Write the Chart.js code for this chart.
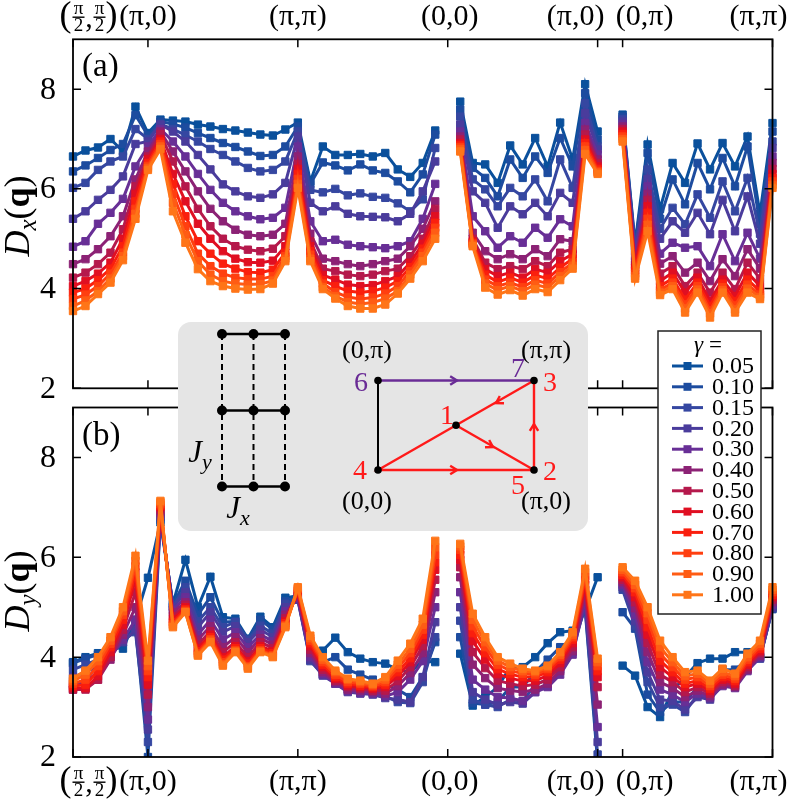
<!DOCTYPE html>
<html>
<head>
<meta charset="utf-8">
<script src="https://cdn.jsdelivr.net/npm/chart.js@4.4.1/dist/chart.umd.min.js"></script>
<style>
  html, body { margin: 0; padding: 0; background: #fff; overflow: hidden; }
  #wrap { position: relative; width: 789px; height: 801px; }
  #wrap canvas { position: absolute; left: 0; top: 0; }
</style>
</head>
<body>
<div id="wrap">
  <canvas id="chartA" width="789" height="801"></canvas>
  <canvas id="chartB" width="789" height="801"></canvas>
</div>
<script>
const gammas = ["0.05", "0.10", "0.15", "0.20", "0.30", "0.40", "0.50", "0.60", "0.70", "0.80", "0.90", "1.00"];
const colors = ["#0a509c", "#1d4c9f", "#3547a1", "#4a3c9c", "#682f96", "#8c2275", "#b5194c", "#e00f22", "#fa1f0e", "#ff3f10", "#ff5c14", "#ff7518"];

// position of each q point along the path (gaps at 30 and 43)
const qPos = [0, 1, 2, 3, 4, 5, 6, 7, 8, 9, 10, 11, 12, 13, 14, 15, 16, 17, 18, 19, 20, 21, 22, 23, 24, 25, 26, 27, 28, 29,
  31, 32, 33, 34, 35, 36, 37, 38, 39, 40, 41, 42,
  44, 45, 46, 47, 48, 49, 50, 51, 52, 53, 54, 55, 56];
const qTicks = [0, 6, 18, 30, 42, 44, 56];
const qLabels = ["(π/2,π/2)", "(π,0)", "(π,π)", "(0,0)", "(π,0)", "(0,π)", "(π,π)"];
const qLabelShift = [15.5, 0, 0, 2, -22, 22, -14];
const yTicks = [2, 4, 6, 8];

// D_x(q), panel (a)
const dx005 = [6.65, 6.77, 6.83, 7.0, 6.75, 7.65, 7.12, 7.39, 7.37, 7.35, 7.29, 7.25, 7.2, 7.17, 7.13, 7.09, 7.07, 7.19, 7.33,
  6.15, 6.85, 6.68, 6.68, 6.7, 6.65, 6.72, 6.39, 6.24, 6.52, 7.17,
  7.75, 6.52, 6.49, 6.12, 6.87, 6.49, 7.02, 6.45, 7.33, 6.59, 8.1, 7.15,
  7.49, 4.9, 6.89, 5.6, 6.52, 6.12, 6.91, 6.39, 6.92, 6.45, 7.05, 5.5, 7.32];
const dx010 = [6.35, 6.47, 6.62, 6.78, 6.9, 7.48, 7.07, 7.35, 7.3, 7.23, 7.12, 7.02, 6.92, 6.84, 6.75, 6.66, 6.68, 6.85, 7.25,
  6.1, 6.53, 6.47, 6.37, 6.49, 6.37, 6.32, 6.15, 5.93, 6.29, 7.09,
  7.59, 6.42, 6.22, 5.85, 6.59, 6.22, 6.65, 6.32, 7.02, 6.45, 7.92, 6.99,
  7.45, 4.85, 6.72, 5.4, 6.19, 5.69, 6.52, 5.99, 6.62, 6.05, 6.85, 5.3, 7.15];
const dx015 = [6.02, 6.12, 6.38, 6.55, 6.65, 7.2, 7.0, 7.3, 7.2, 7.08, 6.95, 6.8, 6.68, 6.55, 6.42, 6.35, 6.38, 6.55, 7.15,
  5.98, 5.93, 6.0, 5.87, 5.91, 5.84, 5.82, 5.71, 5.55, 5.79, 6.82,
  7.45, 6.19, 5.99, 5.65, 6.02, 5.85, 6.19, 5.75, 6.59, 6.02, 7.72, 6.85,
  7.4, 4.8, 6.39, 5.2, 5.62, 5.29, 5.89, 5.42, 6.15, 5.55, 6.22, 5.1, 6.95];
const dx020 = [5.4, 5.55, 5.78, 5.98, 6.25, 6.9, 6.95, 7.29, 7.15, 6.95, 6.68, 6.39, 6.09, 5.95, 5.85, 5.82, 5.89, 6.12, 7.05,
  5.72, 5.55, 5.65, 5.5, 5.45, 5.44, 5.43, 5.35, 5.5, 5.95, 6.55,
  7.29, 5.95, 5.72, 5.22, 5.65, 5.49, 5.72, 5.45, 5.92, 5.72, 7.52, 6.79,
  7.35, 4.75, 6.2, 5.0, 5.35, 5.12, 5.52, 5.09, 5.78, 5.15, 5.85, 4.9, 6.82];
const dx030 = [4.84, 4.95, 5.3, 5.52, 5.8, 6.45, 6.85, 7.2, 6.95, 6.65, 6.3, 5.98, 5.72, 5.55, 5.45, 5.39, 5.42, 5.62, 6.85,
  5.35, 4.95, 4.98, 4.88, 4.85, 4.83, 4.81, 4.85, 4.95, 5.4, 6.1,
  7.15, 5.45, 5.15, 4.82, 5.05, 4.92, 5.22, 5.02, 5.39, 5.25, 7.32, 6.69,
  7.3, 4.65, 6.05, 4.7, 4.92, 4.82, 4.85, 4.45, 5.09, 4.55, 5.12, 4.6, 6.65];
const dx040 = [4.49, 4.59, 4.79, 5.05, 5.45, 6.19, 6.75, 7.15, 6.75, 6.35, 5.95, 5.6, 5.35, 5.18, 5.08, 5.05, 5.08, 5.3, 6.65,
  5.1, 4.6, 4.55, 4.49, 4.45, 4.49, 4.55, 4.6, 4.85, 5.2, 5.75,
  7.05, 5.12, 4.75, 4.59, 4.69, 4.59, 4.79, 4.65, 4.99, 4.95, 7.19, 6.59,
  7.25, 4.55, 5.9, 4.5, 4.65, 4.32, 4.52, 4.15, 4.59, 4.25, 4.79, 4.4, 6.52];
const dx050 = [4.22, 4.32, 4.49, 4.72, 5.19, 6.05, 6.65, 7.1, 6.55, 6.05, 5.6, 5.25, 5.0, 4.85, 4.78, 4.75, 4.8, 5.05, 6.5,
  4.95, 4.4, 4.35, 4.28, 4.25, 4.28, 4.35, 4.4, 4.65, 5.0, 5.6,
  6.99, 5.0, 4.52, 4.39, 4.45, 4.39, 4.55, 4.45, 4.72, 4.79, 7.09, 6.52,
  7.2, 4.48, 5.78, 4.3, 4.45, 4.05, 4.32, 3.92, 4.32, 3.99, 4.52, 4.2, 6.4];
const dx060 = [4.05, 4.15, 4.3, 4.52, 5.0, 5.9, 6.6, 7.0, 6.3, 5.75, 5.3, 5.0, 4.75, 4.6, 4.53, 4.52, 4.56, 4.85, 6.4,
  4.85, 4.27, 4.18, 4.08, 4.05, 4.07, 4.15, 4.25, 4.52, 4.9, 5.45,
  6.92, 4.95, 4.39, 4.25, 4.32, 4.22, 4.39, 4.32, 4.55, 4.69, 6.99, 6.45,
  7.15, 4.42, 5.65, 4.15, 4.32, 3.92, 4.22, 3.75, 4.18, 3.85, 4.32, 4.05, 6.3];
const dx070 = [3.92, 4.0, 4.17, 4.4, 4.85, 5.75, 6.52, 6.95, 6.1, 5.45, 4.95, 4.7, 4.5, 4.4, 4.33, 4.32, 4.38, 4.72, 6.3,
  4.75, 4.17, 4.05, 3.95, 3.92, 3.95, 4.02, 4.15, 4.43, 4.8, 5.32,
  6.88, 4.92, 4.28, 4.13, 4.22, 4.12, 4.27, 4.2, 4.42, 4.6, 6.92, 6.4,
  7.1, 4.36, 5.52, 4.05, 4.2, 3.78, 4.12, 3.65, 4.1, 3.75, 4.18, 3.95, 6.22];
const dx080 = [3.79, 3.88, 4.05, 4.3, 4.72, 5.6, 6.46, 6.9, 5.9, 5.25, 4.7, 4.45, 4.3, 4.22, 4.19, 4.19, 4.25, 4.65, 6.2,
  4.68, 4.1, 3.93, 3.83, 3.79, 3.82, 3.9, 4.05, 4.35, 4.72, 5.22,
  6.84, 4.9, 4.18, 4.05, 4.12, 4.03, 4.17, 4.1, 4.33, 4.52, 6.85, 6.36,
  7.05, 4.3, 5.4, 3.97, 4.12, 3.68, 4.05, 3.56, 4.03, 3.66, 4.08, 3.88, 6.15];
const dx090 = [3.65, 3.76, 3.95, 4.2, 4.65, 5.5, 6.42, 6.85, 5.72, 5.08, 4.55, 4.28, 4.15, 4.1, 4.08, 4.09, 4.16, 4.6, 6.1,
  4.6, 4.03, 3.85, 3.73, 3.69, 3.72, 3.8, 3.95, 4.28, 4.65, 5.12,
  6.8, 4.88, 4.1, 3.97, 4.05, 3.95, 4.08, 4.02, 4.25, 4.46, 6.78, 6.33,
  7.0, 4.25, 5.28, 3.92, 4.05, 3.6, 3.98, 3.5, 3.97, 3.58, 4.0, 3.83, 6.08];
const dx100 = [3.55, 3.65, 3.89, 4.12, 4.57, 5.4, 6.38, 6.8, 5.55, 4.92, 4.39, 4.15, 4.05, 4.0, 3.98, 3.99, 4.1, 4.55, 6.02,
  4.55, 3.99, 3.8, 3.65, 3.6, 3.6, 3.68, 3.9, 4.2, 4.55, 5.0,
  6.75, 4.85, 4.02, 3.88, 3.97, 3.86, 3.99, 3.93, 4.17, 4.4, 6.7, 6.3,
  6.95, 4.2, 5.15, 3.87, 3.99, 3.52, 3.92, 3.42, 3.92, 3.52, 3.92, 3.79, 6.02];

// D_y(q), panel (b)
const dy005 = [3.9, 4.0, 4.08, 4.2, 4.17, 4.75, 5.59, 6.7, 5.07, 5.95, 5.0, 5.61, 4.8, 4.77, 4.37, 4.81, 4.6, 5.19, 5.23,
  4.1, 4.13, 4.39, 4.1, 3.97, 3.9, 3.87, 3.75, 3.7, 3.93, 3.9,
  4.07, 3.03, 3.2, 3.4, 3.8, 3.8, 4.0, 4.28, 4.5, 4.53, 4.93, 5.6,
  3.83, 3.63, 3.0, 2.8, 3.33, 3.6, 3.88, 3.97, 3.97, 4.1, 4.1, 4.0, 5.0];
const dy010 = [3.88, 3.97, 4.05, 4.15, 4.3, 4.6, 2.0, 6.75, 5.05, 5.53, 4.85, 5.2, 4.7, 4.72, 4.35, 4.75, 4.55, 5.12, 5.2,
  3.95, 3.9, 4.0, 3.75, 3.65, 3.55, 3.45, 3.35, 3.2, 3.6, 4.3,
  4.4, 3.08, 3.05, 3.1, 3.4, 3.4, 3.7, 3.95, 4.2, 4.35, 4.95, 1.9,
  4.9, 4.57, 3.25, 2.9, 3.1, 3.1, 3.4, 3.4, 3.75, 3.75, 3.95, 4.0, 4.96];
const dy015 = [3.75, 3.85, 3.95, 4.1, 4.35, 4.5, 2.3, 6.8, 5.02, 5.4, 4.72, 5.0, 4.6, 4.7, 4.35, 4.63, 4.47, 5.07, 5.15,
  3.92, 3.65, 3.5, 3.35, 3.3, 3.28, 3.22, 3.1, 3.08, 3.5, 4.4,
  4.73, 3.15, 3.05, 3.0, 3.15, 3.12, 3.45, 3.55, 3.9, 4.2, 5.0, 2.05,
  5.35, 4.62, 3.5, 3.0, 3.05, 2.9, 3.25, 3.2, 3.55, 3.55, 3.85, 3.97, 4.98];
const dy020 = [3.6, 3.7, 3.82, 4.05, 4.3, 4.55, 2.55, 6.82, 5.0, 5.3, 4.6, 4.9, 4.5, 4.62, 4.3, 4.55, 4.4, 5.0, 5.15,
  3.95, 3.63, 3.47, 3.3, 3.27, 3.25, 3.18, 3.15, 3.1, 3.6, 4.7,
  5.0, 3.3, 3.15, 3.05, 3.1, 3.07, 3.3, 3.42, 3.75, 4.1, 5.05, 2.3,
  5.4, 4.72, 3.7, 3.15, 3.12, 2.95, 3.2, 3.15, 3.45, 3.42, 3.75, 3.98, 5.0];
const dy030 = [3.45, 3.52, 3.7, 4.0, 4.35, 4.75, 2.75, 6.85, 4.95, 5.2, 4.45, 4.75, 4.35, 4.5, 4.2, 4.45, 4.32, 4.92, 5.18,
  4.0, 3.66, 3.47, 3.32, 3.28, 3.27, 3.22, 3.3, 3.55, 3.92, 5.0,
  5.3, 3.55, 3.35, 3.2, 3.18, 3.12, 3.3, 3.4, 3.65, 4.05, 5.15, 2.6,
  5.45, 4.85, 3.9, 3.35, 3.25, 3.1, 3.27, 3.18, 3.42, 3.38, 3.72, 4.0, 5.05];
const dy040 = [3.35, 3.38, 3.55, 3.95, 4.45, 5.0, 3.0, 6.9, 4.9, 5.1, 4.35, 4.62, 4.2, 4.4, 4.1, 4.38, 4.25, 4.85, 5.22,
  4.08, 3.7, 3.5, 3.35, 3.33, 3.3, 3.27, 3.42, 3.68, 4.08, 5.3,
  5.6, 3.85, 3.58, 3.38, 3.33, 3.3, 3.35, 3.47, 3.72, 4.12, 5.25, 3.05,
  5.5, 4.98, 4.1, 3.5, 3.38, 3.2, 3.33, 3.22, 3.45, 3.4, 3.75, 4.03, 5.1];
const dy050 = [3.35, 3.35, 3.55, 4.0, 4.55, 5.3, 3.25, 6.95, 4.82, 5.05, 4.25, 4.52, 4.1, 4.3, 4.0, 4.3, 4.18, 4.78, 5.27,
  4.15, 3.75, 3.53, 3.4, 3.37, 3.33, 3.33, 3.52, 3.8, 4.22, 5.55,
  5.8, 4.1, 3.78, 3.53, 3.47, 3.42, 3.45, 3.55, 3.8, 4.2, 5.35, 3.4,
  5.55, 5.1, 4.28, 3.65, 3.5, 3.3, 3.4, 3.27, 3.5, 3.43, 3.8, 4.08, 5.15];
const dy060 = [3.38, 3.38, 3.62, 4.1, 4.65, 5.55, 3.45, 7.0, 4.76, 5.0, 4.18, 4.45, 4.0, 4.22, 3.92, 4.22, 4.12, 4.72, 5.3,
  4.22, 3.8, 3.57, 3.43, 3.4, 3.37, 3.4, 3.62, 3.9, 4.35, 5.75,
  5.95, 4.32, 3.95, 3.66, 3.58, 3.52, 3.53, 3.63, 3.88, 4.28, 5.45, 3.6,
  5.6, 5.2, 4.45, 3.8, 3.6, 3.4, 3.47, 3.32, 3.55, 3.47, 3.85, 4.12, 5.2];
const dy070 = [3.42, 3.45, 3.72, 4.2, 4.75, 5.7, 3.6, 7.03, 4.7, 4.96, 4.12, 4.4, 3.95, 4.18, 3.87, 4.18, 4.08, 4.68, 5.33,
  4.28, 3.85, 3.6, 3.47, 3.43, 3.4, 3.45, 3.7, 3.98, 4.45, 5.9,
  6.05, 4.48, 4.08, 3.76, 3.66, 3.6, 3.6, 3.7, 3.95, 4.35, 5.55, 3.72,
  5.65, 5.3, 4.6, 3.93, 3.7, 3.47, 3.53, 3.37, 3.6, 3.52, 3.9, 4.17, 5.25];
const dy080 = [3.47, 3.55, 3.82, 4.27, 4.85, 5.82, 3.72, 7.06, 4.66, 4.93, 4.08, 4.36, 3.9, 4.14, 3.82, 4.14, 4.04, 4.64, 5.36,
  4.33, 3.9, 3.65, 3.5, 3.47, 3.42, 3.5, 3.78, 4.08, 4.55, 6.05,
  6.15, 4.62, 4.2, 3.85, 3.73, 3.67, 3.65, 3.76, 4.0, 4.4, 5.62, 3.82,
  5.7, 5.38, 4.75, 4.07, 3.8, 3.55, 3.6, 3.42, 3.65, 3.57, 3.95, 4.22, 5.3];
const dy090 = [3.52, 3.65, 3.92, 4.33, 4.92, 5.93, 3.82, 7.1, 4.63, 4.91, 4.05, 4.33, 3.86, 4.12, 3.8, 4.12, 4.02, 4.62, 5.38,
  4.38, 3.95, 3.7, 3.55, 3.5, 3.45, 3.55, 3.85, 4.17, 4.65, 6.2,
  6.22, 4.75, 4.3, 3.93, 3.8, 3.72, 3.7, 3.8, 4.05, 4.45, 5.7, 3.9,
  5.75, 5.45, 4.88, 4.2, 3.9, 3.62, 3.67, 3.47, 3.7, 3.62, 4.0, 4.27, 5.35];
const dy100 = [3.57, 3.73, 4.0, 4.4, 5.0, 6.03, 3.93, 7.13, 4.6, 4.9, 4.03, 4.3, 3.83, 4.1, 3.77, 4.1, 4.0, 4.6, 5.4,
  4.43, 4.0, 3.73, 3.57, 3.53, 3.47, 3.6, 3.93, 4.27, 4.77, 6.33,
  6.27, 4.87, 4.4, 4.0, 3.87, 3.77, 3.73, 3.83, 4.1, 4.5, 5.77, 3.97,
  5.8, 5.53, 5.0, 4.33, 4.0, 3.7, 3.73, 3.53, 3.77, 3.67, 4.07, 4.33, 5.4];

const dxSeries = [dx005, dx010, dx015, dx020, dx030, dx040, dx050, dx060, dx070, dx080, dx090, dx100];
const dySeries = [dy005, dy010, dy015, dy020, dy030, dy040, dy050, dy060, dy070, dy080, dy090, dy100];

const FONT = "'Liberation Serif', 'Times New Roman', serif";

// null point between path segments so the lines break
function toPoints(vals) {
  const pts = [];
  vals.forEach((v, k) => {
    if (k > 0 && qPos[k] - qPos[k - 1] > 1) pts.push({ x: qPos[k] - 1, y: null });
    pts.push({ x: qPos[k], y: v });
  });
  return pts;
}

function makeDatasets(series) {
  return series.map((vals, k) => ({
    label: gammas[k],
    data: toPoints(vals),
    borderColor: colors[k],
    backgroundColor: colors[k],
    borderWidth: 3,
    pointStyle: 'rect',
    pointRadius: 5.2,
    pointBorderWidth: 1,
    pointBorderColor: colors[k],
    pointBackgroundColor: colors[k],
    tension: 0,
    order: series.length - k,
    clip: { left: 8, top: 8, right: 8, bottom: 0 }
  }));
}

function drawQLabel(ctx, text, cx, cy) {
  ctx.fillStyle = '#000';
  ctx.textBaseline = 'middle';
  ctx.textAlign = 'center';
  if (text === '(π/2,π/2)') {
    ctx.font = '36px ' + FONT;
    ctx.fillText('(', cx - 23, cy);
    ctx.fillText(')', cx + 23, cy);
    ctx.font = '19px ' + FONT;
    [-10, 11].forEach(dx => {
      ctx.fillText('π', cx + dx, cy - 8);
      ctx.fillText('2', cx + dx, cy + 9);
      ctx.fillRect(cx + dx - 6, cy - 0.5, 12, 1.4);
    });
    ctx.font = '30px ' + FONT;
    ctx.fillText(',', cx + 0.5, cy + 2);
  } else {
    ctx.font = '30px ' + FONT;
    ctx.fillText(text, cx, cy);
  }
}

// sequence of [text, font, dy] drawn left to right, centred on 0
function drawRich(ctx, parts) {
  let w = 0;
  parts.forEach(p => { ctx.font = p[1]; w += ctx.measureText(p[0]).width; });
  let x = -w / 2;
  ctx.textAlign = 'left';
  ctx.textBaseline = 'alphabetic';
  parts.forEach(p => {
    ctx.font = p[1];
    ctx.fillText(p[0], x, p[2] || 0);
    x += ctx.measureText(p[0]).width;
  });
}

function chevron(ctx, x, y, ang) {
  const L = 8, w = 0.55;
  ctx.beginPath();
  ctx.moveTo(x - L * Math.cos(ang - w), y - L * Math.sin(ang - w));
  ctx.lineTo(x, y);
  ctx.lineTo(x - L * Math.cos(ang + w), y - L * Math.sin(ang + w));
  ctx.stroke();
}

function drawLegend(ctx) {
  const left = 658, top = 331, right = 761, bottom = 614;
  ctx.save();
  ctx.fillStyle = '#fff';
  ctx.fillRect(left, top, right - left, bottom - top);
  ctx.strokeStyle = '#222';
  ctx.lineWidth = 1.5;
  ctx.strokeRect(left, top, right - left, bottom - top);
  ctx.fillStyle = '#000';
  ctx.translate(708, 352);
  drawRich(ctx, [['γ', 'italic 23px ' + FONT], [' =', '23px ' + FONT]]);
  ctx.restore();
  gammas.forEach((g, k) => {
    const y = 366 + k * 20.8;
    ctx.strokeStyle = colors[k];
    ctx.lineWidth = 3;
    ctx.beginPath();
    ctx.moveTo(672, y);
    ctx.lineTo(703, y);
    ctx.stroke();
    ctx.fillStyle = colors[k];
    ctx.fillRect(683.5, y - 4, 8, 8);
    ctx.fillStyle = '#000';
    ctx.font = '24px ' + FONT;
    ctx.textAlign = 'left';
    ctx.textBaseline = 'middle';
    ctx.fillText(g, 712, y + 1);
  });
}

function drawInset(ctx) {
  ctx.save();
  ctx.fillStyle = '#e5e5e5';
  ctx.beginPath();
  ctx.roundRect(178, 322, 410, 209, 13);
  ctx.fill();

  // three-leg ladder
  const cols = [222, 253.5, 285], rows = [334, 410.5, 486.5];
  ctx.strokeStyle = '#000';
  ctx.lineWidth = 2;
  ctx.setLineDash([6, 4]);
  cols.forEach(x => { ctx.beginPath(); ctx.moveTo(x, rows[0]); ctx.lineTo(x, rows[2]); ctx.stroke(); });
  ctx.setLineDash([]);
  ctx.lineWidth = 2.6;
  rows.forEach(y => { ctx.beginPath(); ctx.moveTo(cols[0], y); ctx.lineTo(cols[2], y); ctx.stroke(); });
  ctx.fillStyle = '#000';
  rows.forEach(y => cols.forEach(x => { ctx.beginPath(); ctx.arc(x, y, 5, 0, 2 * Math.PI); ctx.fill(); }));
  ctx.save(); ctx.translate(200, 462); drawRich(ctx, [['J', 'italic 31px ' + FONT], ['y', 'italic 22px ' + FONT, 7]]); ctx.restore();
  ctx.save(); ctx.translate(238, 518); drawRich(ctx, [['J', 'italic 31px ' + FONT], ['x', 'italic 22px ' + FONT, 7]]); ctx.restore();

  // Brillouin-zone path
  const p6 = [378, 380.5], p3 = [534, 380.5], p4 = [378, 470], p2 = [534, 470];
  const p1 = [(p4[0] + p3[0]) / 2, (p4[1] + p3[1]) / 2];
  const red = '#ff1a1a', purple = '#6a2c96';
  ctx.lineWidth = 2;
  ctx.strokeStyle = '#000';
  ctx.beginPath(); ctx.moveTo(p4[0], p4[1]); ctx.lineTo(p6[0], p6[1]); ctx.stroke();
  ctx.strokeStyle = purple; ctx.lineWidth = 2.4;
  ctx.beginPath(); ctx.moveTo(p6[0], p6[1]); ctx.lineTo(p3[0], p3[1]); ctx.stroke();
  chevron(ctx, 457, p6[1], 0);
  ctx.strokeStyle = red;
  ctx.beginPath();
  ctx.moveTo(p3[0], p3[1]); ctx.lineTo(p4[0], p4[1]); ctx.lineTo(p2[0], p2[1]); ctx.lineTo(p3[0], p3[1]);
  ctx.moveTo(p1[0], p1[1]); ctx.lineTo(p2[0], p2[1]);
  ctx.stroke();
  chevron(ctx, 457, p4[1], 0);
  chevron(ctx, p2[0], 424, -Math.PI / 2);
  chevron(ctx, 496, 403, Math.atan2(p4[1] - p3[1], p4[0] - p3[0]));
  chevron(ctx, 493, 447, Math.atan2(p2[1] - p1[1], p2[0] - p1[0]));
  ctx.fillStyle = '#000';
  [p6, p3, p4, p2, p1].forEach(p => { ctx.beginPath(); ctx.arc(p[0], p[1], 3.8, 0, 2 * Math.PI); ctx.fill(); });

  ctx.font = '26px ' + FONT;
  ctx.textAlign = 'center';
  ctx.textBaseline = 'middle';
  ctx.fillText('(0,π)', 367, 351);
  ctx.fillText('(π,π)', 546, 351);
  ctx.fillText('(0,0)', 367, 502);
  ctx.fillText('(π,0)', 546, 502);
  ctx.font = '28px ' + FONT;
  ctx.fillStyle = purple;
  ctx.fillText('6', 361, 384);
  ctx.fillText('7', 518, 370);
  ctx.fillStyle = red;
  ctx.fillText('3', 550, 384);
  ctx.fillText('1', 447, 417);
  ctx.fillText('4', 360, 472);
  ctx.fillText('2', 550, 473);
  ctx.fillText('5', 518, 487);
  ctx.restore();
}

const decoPlugin = {
  id: 'deco',
  afterDraw(chart) {
    const o = chart.options.plugins.deco;
    const { ctx, chartArea: a } = chart;
    const xs = chart.scales.x, ys = chart.scales.y;
    ctx.save();
    ctx.strokeStyle = '#000';
    ctx.lineWidth = 1.8;
    ctx.strokeRect(a.left, a.top, a.right - a.left, a.bottom - a.top);
    ctx.lineWidth = 1.5;
    ctx.beginPath();
    qTicks.forEach(v => {
      const px = xs.getPixelForValue(v);
      ctx.moveTo(px, a.top); ctx.lineTo(px, a.top + 8);
      ctx.moveTo(px, a.bottom); ctx.lineTo(px, a.bottom - 8);
    });
    yTicks.forEach(v => {
      const py = ys.getPixelForValue(v);
      ctx.moveTo(a.left, py); ctx.lineTo(a.left + 8, py);
      ctx.moveTo(a.right, py); ctx.lineTo(a.right - 8, py);
    });
    ctx.stroke();

    ctx.fillStyle = '#000';
    ctx.font = '32px ' + FONT;
    ctx.textAlign = 'right';
    ctx.textBaseline = 'middle';
    yTicks.forEach(v => ctx.fillText(String(v), 56, ys.getPixelForValue(v) + 1));

    qTicks.forEach((v, k) => drawQLabel(ctx, qLabels[k], xs.getPixelForValue(v) + qLabelShift[k], o.qLabelY));

    ctx.font = '33px ' + FONT;
    ctx.textAlign = 'left';
    ctx.textBaseline = 'middle';
    ctx.fillText(o.name, 82, o.nameY);

    ctx.save();
    ctx.translate(29, o.titleY);
    ctx.rotate(-Math.PI / 2);
    drawRich(ctx, [['D', 'italic 36px ' + FONT], [o.sub, 'italic 25px ' + FONT, 7], ['(', '36px ' + FONT], ['q', 'bold 36px ' + FONT], [')', '36px ' + FONT]]);
    ctx.restore();

    if (o.overlay) {
      drawInset(ctx);
      drawLegend(ctx);
    }
    ctx.restore();
  }
};

function makeChart(id, series, padding, deco) {
  return new Chart(document.getElementById(id), {
    type: 'line',
    data: { datasets: makeDatasets(series) },
    options: {
      responsive: false,
      animation: false,
      events: [],
      spanGaps: false,
      layout: { padding },
      scales: {
        x: { type: 'linear', min: 0, max: 56, display: false },
        y: { type: 'linear', min: 2, max: 9, display: false }
      },
      plugins: { legend: { display: false }, tooltip: { enabled: false }, deco }
    },
    plugins: [decoPlugin]
  });
}

makeChart('chartA', dxSeries, { left: 73, right: 16.5, top: 39.3, bottom: 412.7 },
  { name: '(a)', nameY: 67, qLabelY: 17, titleY: 216, sub: 'x', overlay: false });
makeChart('chartB', dySeries, { left: 73, right: 16.5, top: 407.5, bottom: 44 },
  { name: '(b)', nameY: 436, qLabelY: 782, titleY: 591, sub: 'y', overlay: true });
</script>
</body>
</html>
